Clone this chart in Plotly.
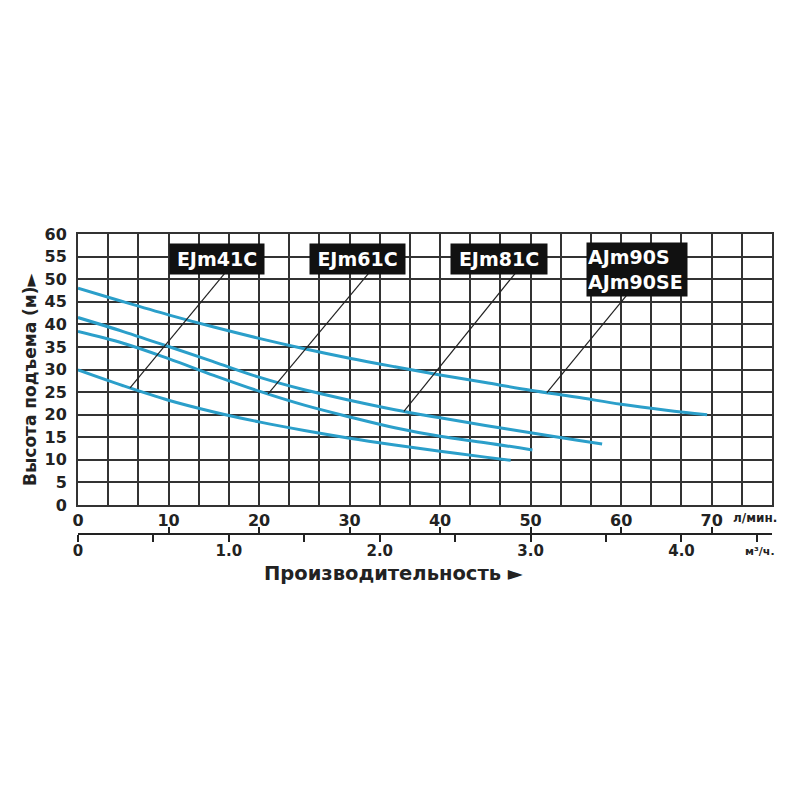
import numpy as np
import plotly.graph_objects as go

# ---------------- data (flow in l/min, head in m) ----------------
aj90_flow = [0, 5, 10, 15, 20, 25, 30, 35, 40, 45, 50, 55, 60, 65, 69.5]
aj90_head = [48.0, 45.0, 42.1, 39.4, 36.9, 34.6, 32.5, 30.6, 28.8, 27.1, 25.4, 23.9, 22.3, 21.0, 20.0]

ej81_flow = [0, 5, 10, 15, 20, 25, 30, 35, 40, 45, 50, 55, 57.9]
ej81_head = [41.5, 38.4, 35.1, 31.7, 28.3, 25.5, 23.2, 21.1, 19.3, 17.6, 16.0, 14.4, 13.5]

ej61_flow = [0, 5, 10, 15, 20, 25, 30, 35, 40, 45, 50.2]
ej61_head = [38.4, 35.8, 32.4, 28.7, 25.2, 22.1, 19.5, 17.1, 15.2, 13.8, 12.2]

ej41_flow = [0, 5, 10, 15, 20, 25, 30, 35, 40, 45, 47.8]
ej41_head = [29.9, 26.4, 23.2, 20.6, 18.4, 16.5, 14.8, 13.3, 11.9, 10.6, 9.9]

model_names = ["EJm41C", "EJm61C", "EJm81C", "AJm90S<br>AJm90SE"]
# flow (l/min) where each model's leader line touches its curve
leader_flow = [5.75, 21.0, 36.0, 51.8]

lpm_labels = [0, 10, 20, 30, 40, 50, 60, 70]
m3h_ticks = [0, 0.5, 1.0, 1.5, 2.0, 2.5, 3.0, 3.5, 4.0, 4.5]
m3h_labels = ["0", "", "1.0", "", "2.0", "", "3.0", "", "4.0", ""]
head_ticks = list(range(0, 65, 5))

# ---------------- styling ----------------
CURVE = "#2b9fca"
GRID = "#333333"
FONT = "DejaVu Sans"
X_MAX = 23 * 10 / 3          # 23 grid cells of 0.2 m3/h
grid_vals = [i * 10 / 3 for i in range(24)]
grid_text = [str(int(round(v))) if i % 3 == 0 else "" for i, v in enumerate(grid_vals)]

curves = [(ej41_flow, ej41_head), (ej61_flow, ej61_head),
          (ej81_flow, ej81_head), (aj90_flow, aj90_head)]

fig = go.Figure()
for fx, fy in curves:
    fig.add_trace(go.Scatter(x=fx, y=fy, mode="lines",
                             line=dict(color=CURVE, width=3, shape="spline", smoothing=1.0),
                             hoverinfo="skip", showlegend=False))

# label boxes and leader lines
box_pos = [(15.37, 54.5, 51.4, 16.25), (30.9, 54.5, 51.3, 32.1),
           (46.5, 54.5, 51.3, 48.3), (61.8, 52.1, 46.4, 60.6)]
box_size = [(92, 28), (93, 28), (94, 28), (98, 51)]
for name, lf, (bx, by, bb, lx), (bw, bh), (fx, fy) in zip(model_names, leader_flow, box_pos, box_size, curves):
    yc = float(np.interp(lf, fx, fy))
    fig.add_trace(go.Scatter(x=[lf, lx], y=[yc, bb], mode="lines",
                             line=dict(color="#222222", width=1.2), hoverinfo="skip", showlegend=False))
    fig.add_annotation(x=bx, y=by, xref="x", yref="y", text=name, showarrow=False,
                       bgcolor="#111111", width=bw, height=bh,
                       align="left" if "<br>" in name else "center",
                       font=dict(family=FONT, size=19, color="white", weight="bold"))

# dummy traces for secondary axes
fig.add_trace(go.Scatter(x=[0], y=[0], xaxis="x2", yaxis="y", mode="markers",
                         marker=dict(opacity=0), hoverinfo="skip", showlegend=False))
fig.add_trace(go.Scatter(x=[0], y=[0], xaxis="x3", yaxis="y", mode="markers",
                         marker=dict(opacity=0), hoverinfo="skip", showlegend=False))

fig.update_layout(
    width=792, height=792,
    margin=dict(l=70, r=28, t=226, b=266),
    paper_bgcolor="white", plot_bgcolor="white",
    showlegend=False,
    xaxis=dict(range=[0, X_MAX], tickmode="array", tickvals=grid_vals, ticktext=grid_text,
               showgrid=True, gridcolor=GRID, gridwidth=1.6, zeroline=False,
               showline=True, linecolor=GRID, linewidth=2, mirror=True, ticks="",
               ticklabelstandoff=0,
               tickfont=dict(family=FONT, size=16, color="#222", weight="bold")),
    yaxis=dict(range=[0, 60], domain=[29 / 300, 1], tickmode="array", tickvals=head_ticks,
               showgrid=True, gridcolor=GRID, gridwidth=1.6, zeroline=False,
               showline=True, linecolor=GRID, linewidth=2, mirror=True, ticks="",
               ticklabelstandoff=6,
               tickfont=dict(family=FONT, size=16, color="#222", weight="bold")),
    xaxis2=dict(overlaying="x", anchor="free", position=0, side="bottom", range=[0, 4.6],
                tickmode="array", tickvals=m3h_ticks, ticktext=m3h_labels,
                ticks="outside", ticklen=7, tickwidth=2, tickcolor="#222",
                ticklabelstandoff=-4,
                showline=True, linecolor="#222", linewidth=2, showgrid=False, zeroline=False,
                tickfont=dict(family=FONT, size=15, color="#222", weight="bold")),
    xaxis3=dict(overlaying="x", anchor="free", position=0, side="bottom", range=[0, X_MAX],
                tickmode="array", tickvals=lpm_labels, ticktext=[""] * len(lpm_labels),
                ticks="inside", ticklen=7, tickwidth=2, tickcolor="#222",
                showline=False, showgrid=False, zeroline=False, showticklabels=False),
)

fig.add_annotation(x=72.1, y=(534 - 518) / 300, xref="x", yref="paper", text="л/мин.",
                   showarrow=False, xanchor="left", yanchor="middle",
                   font=dict(family=FONT, size=12, color="#222", weight="bold"))
fig.add_annotation(x=73.5, y=(534 - 551) / 300, xref="x", yref="paper", text="м³/ч.",
                   showarrow=False, xanchor="left", yanchor="middle",
                   font=dict(family=FONT, size=11, color="#222", weight="bold"))
fig.add_annotation(x=(393 - 78) / 694, y=(534 - 573) / 300, xref="paper", yref="paper",
                   text="Производительность ►", showarrow=False, xanchor="center", yanchor="middle",
                   font=dict(family=FONT, size=19.5, color="#222", weight="bold"))
fig.add_annotation(x=(30 - 78) / 694, y=(534 - 379) / 300, xref="paper", yref="paper",
                   text="Высота подъема (м)►", showarrow=False, textangle=-90,
                   xanchor="center", yanchor="middle",
                   font=dict(family=FONT, size=17, color="#222", weight="bold"))

fig.write_html("out.html")
